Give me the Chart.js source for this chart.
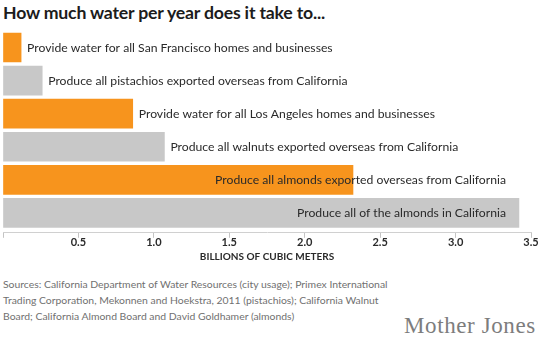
<!DOCTYPE html>
<html>
<head>
<meta charset="utf-8">
<script src="https://cdn.jsdelivr.net/npm/chart.js@4.4.1/dist/chart.umd.min.js"></script>
<style>
  html, body { margin: 0; padding: 0; background: #fff; }
  body { width: 549px; height: 343px; position: relative; overflow: hidden; font-family: Lato, "Open Sans", sans-serif; }
  #title { position: absolute; left: 3px; top: 2px; font-size: 17.7px; font-weight: 700; color: #1c1c1c; white-space: nowrap; letter-spacing: -0.2px; }
  #wrap { position: absolute; left: 0; top: 0; width: 549px; height: 275px; }
  #sources { position: absolute; left: 3px; top: 276px; font-size: 10.4px; line-height: 16px; color: #707070; white-space: nowrap; }
  #logo { position: absolute; left: 404px; top: 314px; font-family: "Liberation Serif", "DejaVu Serif", serif; font-size: 23px; line-height: 23px; color: #7d7d7d; white-space: nowrap; letter-spacing: 0.6px; }
</style>
</head>
<body>
<div id="title">How much water per year does it take to...</div>
<div id="wrap"><canvas id="c" width="549" height="275"></canvas></div>
<div id="sources">Sources: California Department of Water Resources (city usage); Primex International<br>Trading Corporation, Mekonnen and Hoekstra, 2011 (pistachios); California Walnut<br>Board; California Almond Board and David Goldhamer (almonds)</div>
<div id="logo">Mother Jones</div>
<script>
const categories = [
  "Provide water for all San Francisco homes and businesses",
  "Produce all pistachios exported overseas from California",
  "Provide water for all Los Angeles homes and businesses",
  "Produce all walnuts exported overseas from California",
  "Produce all almonds exported overseas from California",
  "Produce all of the almonds in California"
];
const values = [0.12, 0.26, 0.86, 1.07, 2.32, 3.42];
const barColors = ["#F7941D", "#C8C8C8", "#F7941D", "#C8C8C8", "#F7941D", "#C8C8C8"];
const xTicks = [0.5, 1.0, 1.5, 2.0, 2.5, 3.0, 3.5];
const axisTitle = "BILLIONS OF CUBIC METERS";

const points = values.map((v, i) => ({ x: v, y: i }));

const barLabels = {
  id: 'barLabels',
  afterDatasetsDraw(chart) {
    const ctx = chart.ctx;
    const meta = chart.getDatasetMeta(0);
    const limit = chart.chartArea.right - 25;
    ctx.save();
    ctx.font = '12.2px Lato, "Open Sans", sans-serif';
    ctx.fillStyle = '#2a2a2a';
    ctx.textBaseline = 'middle';
    ctx.textAlign = 'left';
    meta.data.forEach((bar, i) => {
      const txt = categories[i];
      const w = ctx.measureText(txt).width;
      const x = Math.min(bar.x + 6, limit - w);
      ctx.fillText(txt, x, bar.y + 0.5);
    });
    ctx.restore();
  }
};

new Chart(document.getElementById('c'), {
  type: 'bar',
  data: {
    datasets: [{
      data: points,
      backgroundColor: barColors,
      borderWidth: 0,
      barThickness: 29
    }]
  },
  options: {
    indexAxis: 'y',
    responsive: false,
    animation: false,
    events: [],
    layout: { padding: { top: 31, left: 3, right: 18, bottom: 12 } },
    plugins: { legend: { display: false }, tooltip: { enabled: false }, title: { display: false } },
    scales: {
      y: { type: 'linear', display: false, reverse: true, offset: false, bounds: 'data', min: -0.5, max: 5.6, grid: { offset: false } },
      x: {
        type: 'linear',
        min: 0, max: 3.5,
        afterBuildTicks(axis) { axis.ticks = [0].concat(xTicks).map(v => ({ value: v })); },
        ticks: {
          autoSkip: false,
          maxRotation: 0,
          padding: -2,
          color: '#2a2a2a',
          font: { family: 'Lato, "Open Sans", sans-serif', size: 11, weight: 'bold' },
          callback(v) { return v === 0 ? '' : Number(v).toFixed(1); }
        },
        grid: { drawOnChartArea: false, drawTicks: true, tickLength: 5, color: '#c4c4c4', lineWidth: 1 },
        border: { display: true, color: '#d0d0d0', width: 1 },
        title: {
          display: true, text: axisTitle, color: '#2a2a2a',
          font: { family: 'Lato, "Open Sans", sans-serif', size: 10, weight: 'bold' },
          padding: { top: 4, bottom: 0 }
        }
      }
    }
  },
  plugins: [barLabels]
});
</script>
</body>
</html>
